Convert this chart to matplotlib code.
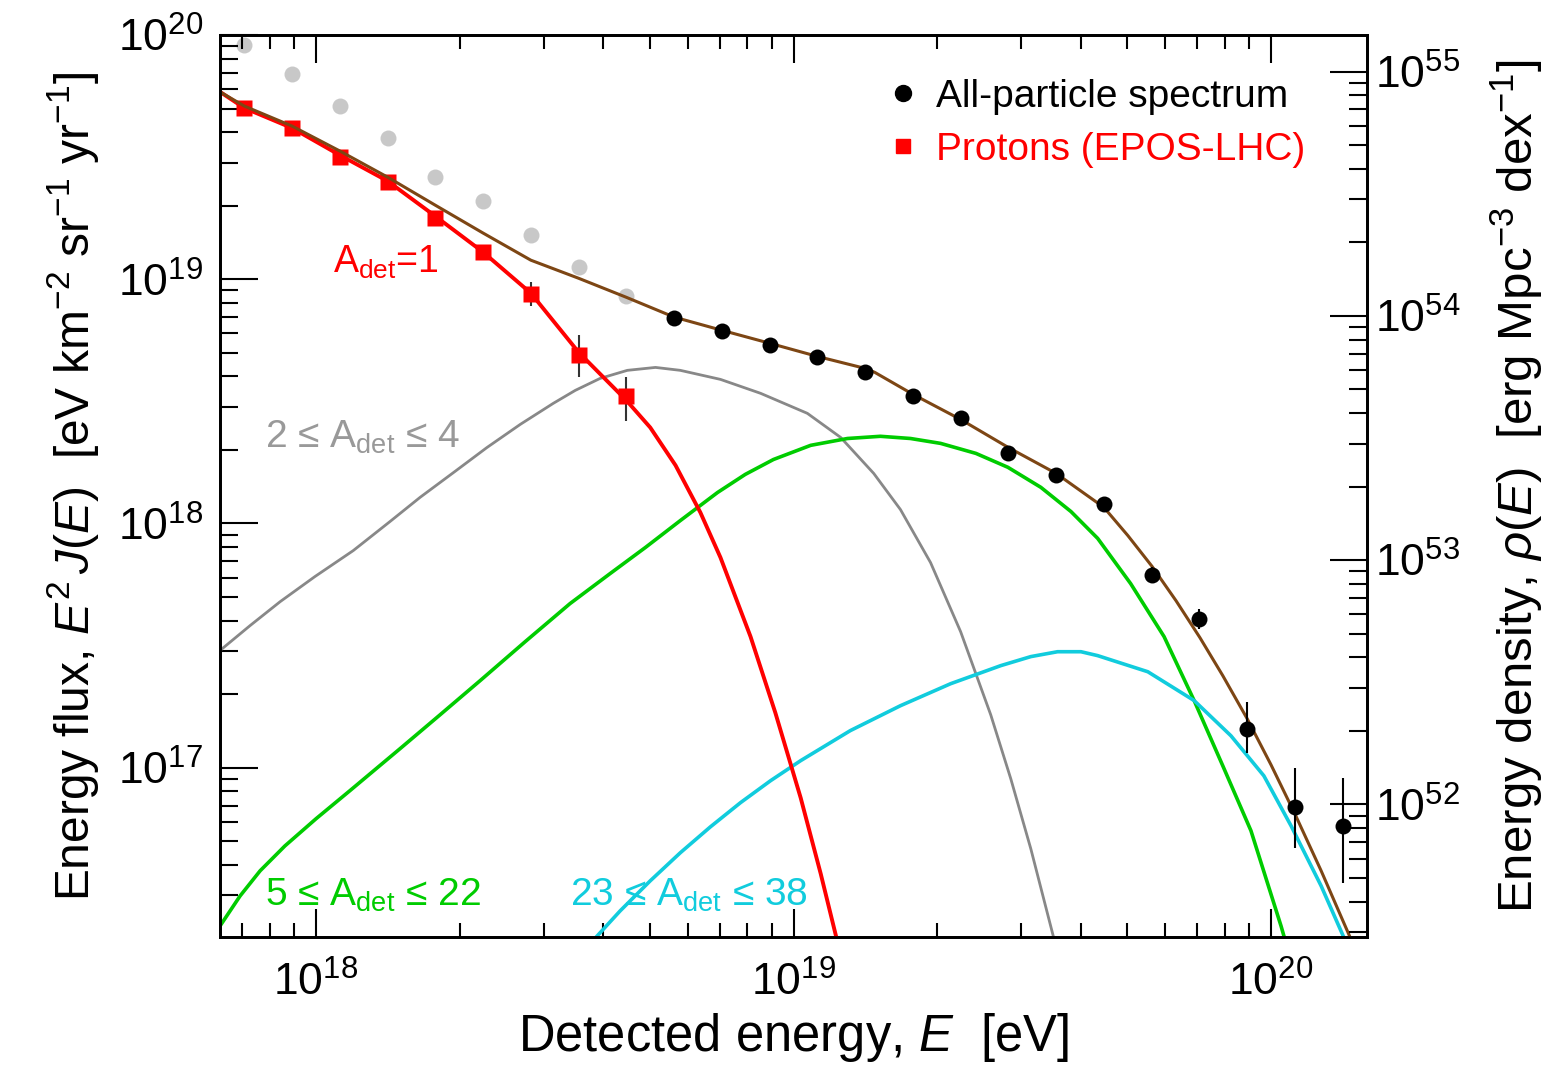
import numpy as np
import matplotlib
matplotlib.use('Agg')
import matplotlib.pyplot as plt
from matplotlib.ticker import LogLocator, NullFormatter
from matplotlib.lines import Line2D

plt.rcParams['font.family'] = ['Liberation Sans', 'DejaVu Sans']
plt.rcParams['mathtext.fontset'] = 'custom'
plt.rcParams['mathtext.rm'] = 'Liberation Sans'
plt.rcParams['mathtext.it'] = 'Liberation Sans:italic'
plt.rcParams['mathtext.bf'] = 'Liberation Sans:bold'

# --- data points (log10 of E [eV] and of E^2 J(E)) ---
lgE_low = [17.85, 17.95, 18.05, 18.15, 18.25, 18.35, 18.45, 18.55, 18.65]
lgF_grey = [19.96, 19.84, 19.71, 19.58, 19.42, 19.32, 19.18, 19.05, 18.93]
lgF_prot = [19.70, 19.62, 19.50, 19.40, 19.25, 19.11, 18.94, 18.69, 18.52]
prot_up = [0.0, 0.0, 0.0, 0.0, 0.03, 0.03, 0.05, 0.08, 0.08]
prot_dn = [0.0, 0.0, 0.0, 0.0, 0.03, 0.03, 0.05, 0.09, 0.10]

lgE_all = [18.75, 18.85, 18.95, 19.05, 19.15, 19.25, 19.35, 19.45,
           19.55, 19.65, 19.75, 19.85, 19.95, 20.05, 20.15]
lgF_all = [18.84, 18.79, 18.73, 18.68, 18.62, 18.52, 18.43, 18.29,
           18.20, 18.08, 17.79, 17.61, 17.16, 16.84, 16.76]
all_up = [0.01, 0.01, 0.01, 0.01, 0.01, 0.015, 0.015, 0.02,
          0.02, 0.025, 0.03, 0.04, 0.11, 0.16, 0.20]
all_dn = [0.01, 0.01, 0.01, 0.01, 0.01, 0.015, 0.015, 0.02,
          0.02, 0.025, 0.03, 0.04, 0.10, 0.17, 0.23]

# --- model curves ---
lgE_tot = [17.80, 17.85, 17.95, 18.05, 18.15, 18.25, 18.35, 18.45, 18.55, 18.65,
           18.75, 18.85, 18.95, 19.05, 19.15, 19.17, 19.25, 19.35, 19.45, 19.55,
           19.650, 19.700, 19.751, 19.801, 19.851, 19.899, 19.950, 20.000, 20.050,
           20.105, 20.168, 20.199]
lgF_tot = [19.766, 19.709, 19.627, 19.525, 19.418, 19.303, 19.189, 19.078, 19.004, 18.926,
           18.845, 18.791, 18.738, 18.684, 18.635, 18.619, 18.529, 18.426, 18.311, 18.205,
           18.066, 17.951, 17.824, 17.684, 17.533, 17.377, 17.201, 17.012, 16.811,
           16.578, 16.295, 16.143]

lgE_p = [17.80, 17.85, 17.95, 18.05, 18.15, 18.25, 18.35, 18.45, 18.55, 18.65,
         18.700, 18.753, 18.805, 18.847, 18.910, 18.962, 19.015, 19.057, 19.090, 19.119]
lgF_p = [19.766, 19.701, 19.619, 19.508, 19.402, 19.258, 19.111, 18.943, 18.701, 18.504,
         18.393, 18.238, 18.045, 17.861, 17.537, 17.225, 16.877, 16.566, 16.303, 16.05]

lgE_he = [17.799, 17.862, 17.925, 17.998, 18.078, 18.155, 18.218, 18.291, 18.358, 18.428,
          18.497, 18.543, 18.595, 18.652, 18.711, 18.763, 18.847, 18.931, 19.029, 19.099,
          19.168, 19.224, 19.287, 19.350, 19.413, 19.455, 19.497, 19.545, 19.570]
lgF_he = [17.480, 17.582, 17.680, 17.783, 17.889, 18.008, 18.107, 18.213, 18.311, 18.406,
          18.492, 18.545, 18.594, 18.627, 18.639, 18.627, 18.590, 18.533, 18.451, 18.352,
          18.205, 18.057, 17.840, 17.557, 17.217, 16.955, 16.668, 16.303, 16.10]

lgE_cno = [17.799, 17.841, 17.883, 17.935, 18.000, 18.071, 18.176, 18.260, 18.344, 18.438,
           18.532, 18.616, 18.690, 18.763, 18.841, 18.899, 18.958, 19.036, 19.113, 19.182,
           19.245, 19.308, 19.382, 19.449, 19.518, 19.581, 19.637, 19.706, 19.776, 19.839,
           19.899, 19.958, 20.021, 20.042]
lgF_cno = [16.352, 16.475, 16.578, 16.680, 16.791, 16.906, 17.078, 17.217, 17.357, 17.516,
           17.672, 17.795, 17.902, 18.012, 18.127, 18.201, 18.262, 18.320, 18.348, 18.357,
           18.348, 18.328, 18.287, 18.230, 18.148, 18.049, 17.939, 17.754, 17.537, 17.275,
           17.008, 16.742, 16.352, 16.209]

lgE_si = [18.585, 18.637, 18.700, 18.763, 18.826, 18.889, 18.952, 19.015, 19.119, 19.224,
          19.329, 19.434, 19.497, 19.553, 19.602, 19.637, 19.742, 19.839, 19.916, 19.985,
          20.042, 20.105, 20.153, 20.189]
lgF_si = [16.303, 16.414, 16.537, 16.652, 16.758, 16.857, 16.947, 17.029, 17.152, 17.254,
          17.344, 17.418, 17.455, 17.475, 17.475, 17.459, 17.393, 17.275, 17.131, 16.967,
          16.762, 16.516, 16.303, 16.15]

# E^2 J(E) -> energy density, log10 offset
lg_conv = 35.15

c_red = '#ff0000'
c_brown = '#7d4614'
c_greyline = '#888888'
c_green = '#00cc00'
c_cyan = '#11ccdd'
c_greypts = '#c8c8c8'


def p10(v):
    return 10.0 ** np.asarray(v)


fig = plt.figure(figsize=(15.43, 10.67), dpi=100)
ax = fig.add_axes([220 / 1543, 1 - 937 / 1067, (1367 - 220) / 1543, (937 - 35) / 1067])
ax.set_xscale('log')
ax.set_yscale('log')
ax.set_xlim(10 ** 17.799, 10 ** 20.201)
ax.set_ylim(10 ** 16.307, 1e20)

# curves
ax.plot(p10(lgE_he), p10(lgF_he), color=c_greyline, lw=2.0, zorder=2)
ax.plot(p10(lgE_cno), p10(lgF_cno), color=c_green, lw=2.6, zorder=2)
ax.plot(p10(lgE_si), p10(lgF_si), color=c_cyan, lw=2.6, zorder=2)
ax.plot(p10(lgE_p), p10(lgF_p), color=c_red, lw=2.8, zorder=3)

# grey points (no error bars)
ax.plot(p10(lgE_low), p10(lgF_grey), 'o', color=c_greypts, ms=11.5, mec='none', zorder=1)

# protons
yp = p10(lgF_prot)
ax.errorbar(p10(lgE_low), yp,
            yerr=[yp - p10(np.array(lgF_prot) - np.array(prot_dn)),
                  p10(np.array(lgF_prot) + np.array(prot_up)) - yp],
            fmt='s', color=c_red, ecolor='#333333', elinewidth=1.5, ms=12, mec='none', zorder=4)

ax.plot(p10(lgE_tot), p10(lgF_tot), color=c_brown, lw=2.2, zorder=5)

# all-particle
ya = p10(lgF_all)
ax.errorbar(p10(lgE_all), ya,
            yerr=[ya - p10(np.array(lgF_all) - np.array(all_dn)),
                  p10(np.array(lgF_all) + np.array(all_up)) - ya],
            fmt='o', color='black', ecolor='black', elinewidth=1.5, ms=11.5, mec='none', zorder=6)

# axes styling
for sp in ax.spines.values():
    sp.set_linewidth(2.0)
ax.xaxis.set_major_locator(LogLocator(base=10))
ax.xaxis.set_minor_locator(LogLocator(base=10, subs=np.arange(2, 10)))
ax.xaxis.set_minor_formatter(NullFormatter())
ax.yaxis.set_major_locator(LogLocator(base=10))
ax.yaxis.set_minor_locator(LogLocator(base=10, subs=np.arange(2, 10)))
ax.yaxis.set_minor_formatter(NullFormatter())
ax.tick_params(axis='x', which='major', direction='in', length=20, width=1.5,
               top=True, bottom=True, labelsize=32, pad=18)
ax.tick_params(axis='x', which='minor', direction='in', length=10, width=1.5, top=True, bottom=True)
ax.tick_params(axis='y', which='major', direction='in', length=27, width=1.5,
               left=True, right=False, labelsize=32, pad=12)
ax.tick_params(axis='y', which='minor', direction='in', length=13, width=1.5, left=True, right=False)

ax2 = ax.twinx()
ax2.set_yscale('log')
lo, hi = ax.get_ylim()
ax2.set_ylim(lo * 10 ** lg_conv, hi * 10 ** lg_conv)
ax2.yaxis.set_major_locator(LogLocator(base=10))
ax2.yaxis.set_minor_locator(LogLocator(base=10, subs=np.arange(2, 10)))
ax2.yaxis.set_minor_formatter(NullFormatter())
ax2.tick_params(axis='y', which='major', direction='in', length=27, width=1.5, labelsize=32, pad=6)
ax2.tick_params(axis='y', which='minor', direction='in', length=13, width=1.5)
for sp in ax2.spines.values():
    sp.set_linewidth(2.0)

ax.set_xlabel(r'Detected energy, $\mathit{E}$  [eV]', fontsize=36.5, labelpad=4)
ax.set_ylabel(r'Energy flux, $\mathit{E}^{2}\,\mathit{J(E)}$  [eV km$^{-2}$ sr$^{-1}$ yr$^{-1}$]',
              fontsize=34.5, labelpad=12)
ax2.set_ylabel(r'Energy density, $\mathit{\rho(E)}$  [erg Mpc$^{-3}$ dex$^{-1}$]',
               fontsize=35.5, labelpad=20)

# labels for components
ax.text(10 ** 18.036, 10 ** 19.025, r'A$_{\mathrm{det}}$=1', color=c_red, fontsize=27, va='baseline')
ax.text(10 ** 17.893, 10 ** 18.311, r'2 ≤ A$_{\mathrm{det}}$ ≤ 4', color='#999999', fontsize=28, va='baseline')
ax.text(10 ** 17.893, 10 ** 16.434, r'5 ≤ A$_{\mathrm{det}}$ ≤ 22', color=c_green, fontsize=28, va='baseline')
ax.text(10 ** 18.532, 10 ** 16.434, r'23 ≤ A$_{\mathrm{det}}$ ≤ 38', color=c_cyan, fontsize=28, va='baseline')

handles = [Line2D([], [], marker='o', ls='none', color='black', ms=11.5),
           Line2D([], [], marker='s', ls='none', color=c_red, ms=10.5)]
leg = ax.legend(handles, ['All-particle spectrum', 'Protons (EPOS-LHC)'],
                loc='upper left', bbox_to_anchor=(887 / 1543, 1 - 79 / 1067),
                bbox_transform=fig.transFigure, frameon=False, fontsize=28,
                handlelength=0.8, handletextpad=0.47, labelspacing=0.44,
                labelcolor=['black', c_red], borderpad=0, borderaxespad=0)

fig.savefig('out.png', dpi=100)
